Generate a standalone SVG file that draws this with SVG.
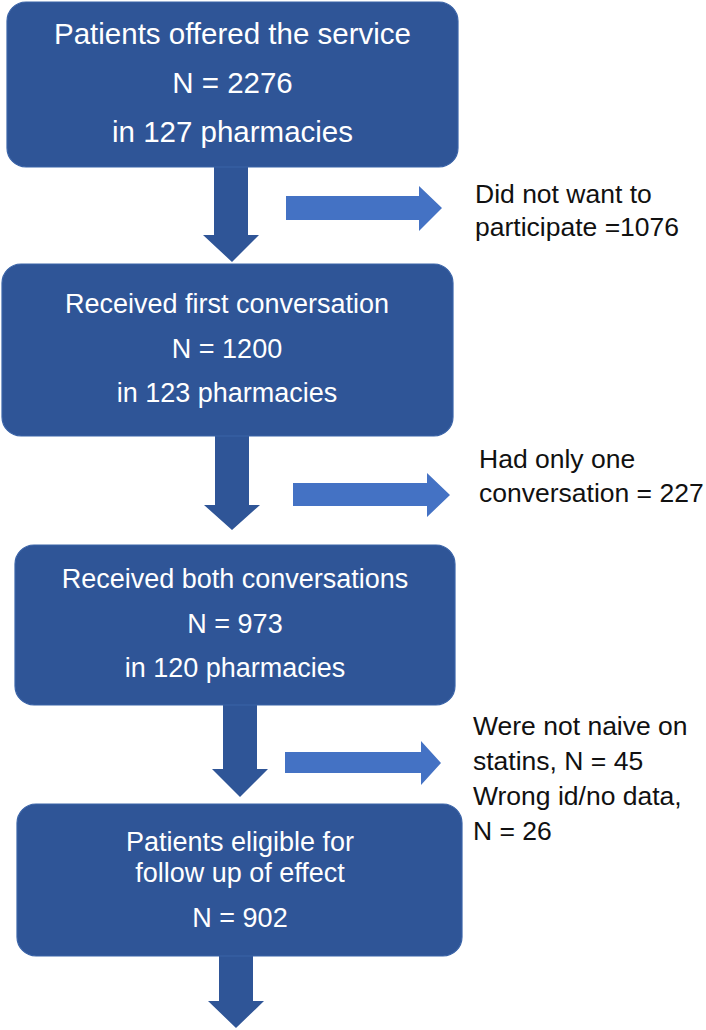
<svg xmlns="http://www.w3.org/2000/svg" width="706" height="1030" viewBox="0 0 706 1030">
<style>
.box{fill:#2F5597;stroke:#3B64A8;stroke-width:1.2}
.bt{font-family:"Liberation Sans",Arial,sans-serif;fill:#ffffff;text-anchor:middle}
.lbl{font-family:"Liberation Sans",Arial,sans-serif;fill:#111111;font-size:26.5px}
.down{fill:#2F5597}
.right{fill:#4472C4}
</style>
<rect width="706" height="1030" fill="#ffffff"/>
<g id="connectors">
<polygon class="down" points="214,167 248,167 248,235 259,235 232,262 203,235 214,235"/>
<polygon class="down" points="215,436 249,436 249,505 260,505 232,530 204,505 215,505"/>
<polygon class="down" points="223,705 257,705 257,769 268,769 240,797 212,769 223,769"/>
<polygon class="down" points="219,956 253,956 253,1001 264,1001 236,1028 208,1001 219,1001"/>
<polygon class="right" points="286,196 419,196 419,186 442,208 419,231 419,220 286,220"/>
<polygon class="right" points="293,483 427,483 427,473 450,495 427,517 427,506 293,506"/>
<polygon class="right" points="285,752 421,752 421,741 441,763 421,785 421,773 285,773"/>
</g>
<g id="node1">
<rect class="box" x="7" y="2" width="451" height="165" rx="19"/>
<text class="bt" font-size="29.5" x="232.5" y="44">Patients offered the service</text>
<text class="bt" font-size="29.5" x="232.5" y="93">N = 2276</text>
<text class="bt" font-size="29.5" x="232.5" y="142">in 127 pharmacies</text>
</g>
<g id="node2">
<rect class="box" x="2" y="264" width="451" height="172" rx="19"/>
<text class="bt" font-size="27" x="227" y="313">Received first conversation</text>
<text class="bt" font-size="27" x="227" y="358">N = 1200</text>
<text class="bt" font-size="27" x="227" y="402">in 123 pharmacies</text>
</g>
<g id="node3">
<rect class="box" x="15" y="545" width="440" height="160" rx="19"/>
<text class="bt" font-size="27" x="235" y="588">Received both conversations</text>
<text class="bt" font-size="27" x="235" y="633">N = 973</text>
<text class="bt" font-size="27" x="235" y="677">in 120 pharmacies</text>
</g>
<g id="node4">
<rect class="box" x="17" y="804" width="445" height="152" rx="19"/>
<text class="bt" font-size="27" x="240" y="851">Patients eligible for</text>
<text class="bt" font-size="27" x="240" y="882">follow up of effect</text>
<text class="bt" font-size="27" x="240" y="927">N = 902</text>
</g>
<g id="label1">
<text class="lbl" x="475" y="203">Did not want to</text>
<text class="lbl" x="475" y="236">participate =1076</text>
</g>
<g id="label2">
<text class="lbl" x="479" y="468">Had only one</text>
<text class="lbl" x="479" y="502">conversation = 227</text>
</g>
<g id="label3">
<text class="lbl" x="473" y="735" font-size="27">Were not naive on</text>
<text class="lbl" x="473" y="770" font-size="27">statins, N = 45</text>
<text class="lbl" x="473" y="805" font-size="27">Wrong id/no data,</text>
<text class="lbl" x="473" y="840" font-size="27">N = 26</text>
</g>
</svg>
